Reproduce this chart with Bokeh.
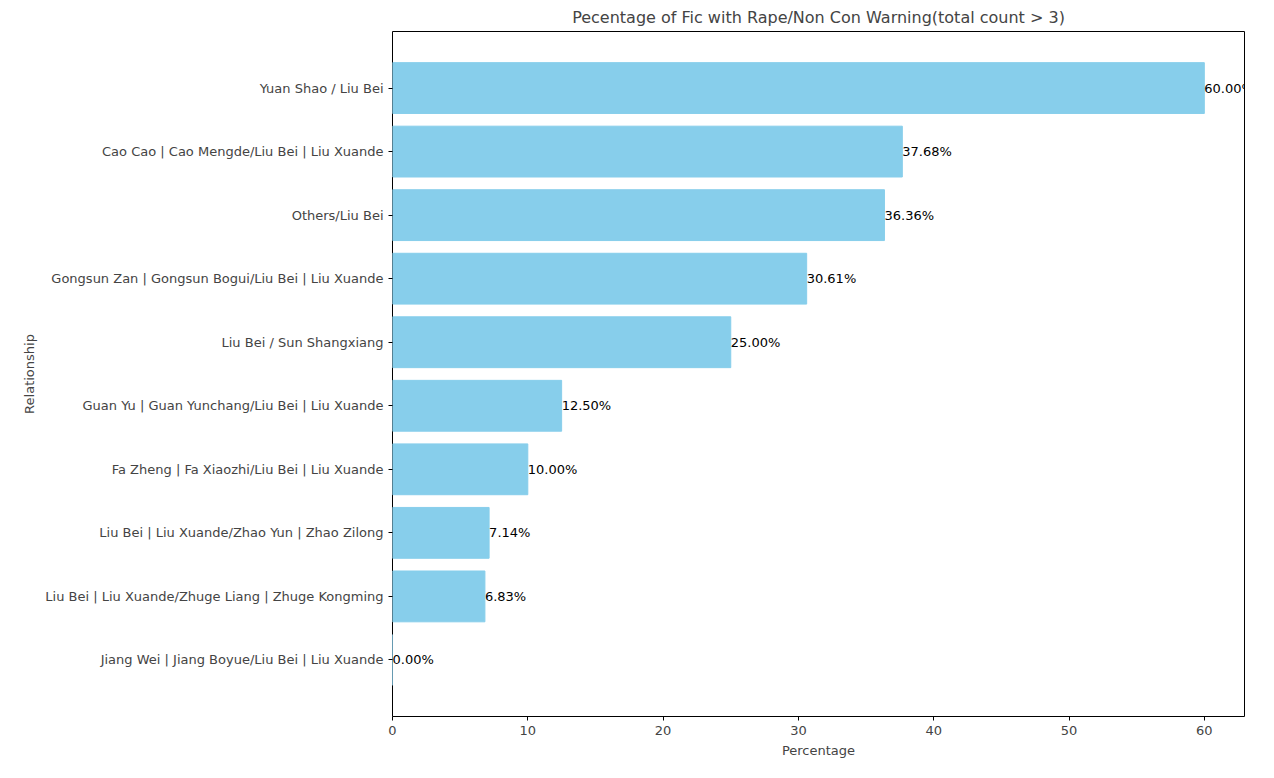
from bokeh.plotting import figure
from bokeh.models import FixedTicker, Range1d, ColumnDataSource
from bokeh.core.properties import value
from bokeh.embed import file_html
from bokeh.resources import INLINE

relationships = [
    "Yuan Shao / Liu Bei",
    "Cao Cao | Cao Mengde/Liu Bei | Liu Xuande",
    "Others/Liu Bei",
    "Gongsun Zan | Gongsun Bogui/Liu Bei | Liu Xuande",
    "Liu Bei / Sun Shangxiang",
    "Guan Yu | Guan Yunchang/Liu Bei | Liu Xuande",
    "Fa Zheng | Fa Xiaozhi/Liu Bei | Liu Xuande",
    "Liu Bei | Liu Xuande/Zhao Yun | Zhao Zilong",
    "Liu Bei | Liu Xuande/Zhuge Liang | Zhuge Kongming",
    "Jiang Wei | Jiang Boyue/Liu Bei | Liu Xuande",
]
percentages = [60.00, 37.68, 36.36, 30.61, 25.00, 12.50, 10.00, 7.14, 6.83, 0.00]

n = len(relationships)
ys = [n - 1 - i for i in range(n)]
src = ColumnDataSource(dict(y=ys, v=percentages, lab=[f"{v:.2f}%" for v in percentages]))

p = figure(width=1258, height=762, output_backend="svg", toolbar_location=None,
           title="Pecentage of Fic with Rape/Non Con Warning(total count > 3)",
           x_range=Range1d(0, 62.97), y_range=Range1d(-0.89, 9.89),
           min_border_left=392, min_border_right=14, min_border_top=23, min_border_bottom=46)
p.hbar(y="y", left=0, right="v", height=0.8, source=src, color="#87CEEB")
p.text(x="v", y="y", text="lab", source=src, text_baseline="middle", text_align="left",
       text_font=value("DejaVu Sans"), text_font_size="13px", text_color="black")

p.title.align = "center"
p.title.text_font = "DejaVu Sans"
p.title.text_font_size = "16px"
p.title.text_font_style = "normal"

p.yaxis.ticker = FixedTicker(ticks=ys)
p.yaxis.major_label_overrides = {y: r for y, r in zip(ys, relationships)}
p.xaxis.ticker = FixedTicker(ticks=[0, 10, 20, 30, 40, 50, 60])
p.xaxis.axis_label = "Percentage"
p.yaxis.axis_label = "Relationship"
for ax in (p.xaxis, p.yaxis):
    ax.axis_label_text_font = "DejaVu Sans"
    ax.axis_label_text_font_size = "13px"
    ax.axis_label_text_font_style = "normal"
    ax.major_label_text_font = "DejaVu Sans"
    ax.major_label_text_font_size = "13px"
    ax.minor_tick_line_color = None
    ax.major_tick_out = 4
    ax.major_tick_in = 0
    ax.axis_line_color = None
p.grid.visible = False
p.outline_line_color = "black"
p.outline_line_alpha = 1

open("out.html", "w").write(file_html(p, INLINE))
